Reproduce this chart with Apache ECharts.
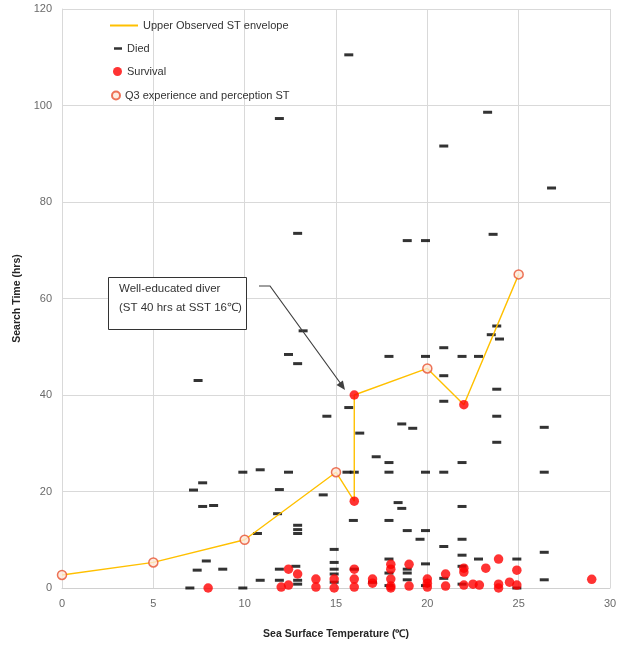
<!DOCTYPE html>
<html>
<head>
<meta charset="utf-8">
<script src="https://cdn.jsdelivr.net/npm/echarts@6/dist/echarts.min.js"></script>
<style>html,body{margin:0;padding:0;background:#fff}#c{width:623px;height:645px}</style>
</head>
<body>
<div id="c"></div>
<script>
// ---- data ----
var xTicks = [0, 5, 10, 15, 20, 25, 30];
var yTicks = [0, 20, 40, 60, 80, 100, 120];

var envelope = [[0,2.7],[5,5.3],[10,10],[15,24],[16,18],[16,40],[20,45.5],[22,38],[25,65]];

var q3Points = [[0,2.7],[5,5.3],[10,10],[15,24],[20,45.5],[25,65]];

var died = [
  [15.7,110.5],[11.9,97.3],[23.3,98.6],[20.9,91.6],[26.8,82.9],[12.9,73.5],[18.9,72],[19.9,72],[23.6,73.3],
  [13.2,53.3],[12.4,48.4],[12.9,46.5],[7.45,43],[15.7,37.4],[14.5,35.6],[16.3,32.1],
  [15.6,24],[16.0,24],[9.9,24],[10.85,24.5],[12.4,24],
  [17.9,48],[19.9,48],[20.9,49.8],[21.9,48],[22.8,48],[23.8,54.3],[23.5,52.5],[23.95,51.6],
  [20.9,44],[23.8,41.2],[20.9,38.7],[23.8,35.6],[18.6,34],[19.2,33.1],[26.4,33.3],[23.8,30.2],
  [17.2,27.2],[17.9,26],[21.9,26],
  [17.9,24],[19.9,24],[20.9,24],[26.4,24],
  [7.2,20.3],[7.7,21.8],[11.9,20.4],[14.3,19.3],
  [7.7,16.9],[8.3,17.1],[11.8,15.4],[21.9,16.9],[18.4,17.7],[18.6,16.5],
  [15.95,14],[17.9,14],[10.7,11.3],[12.9,13],[12.9,12.1],[12.9,11.3],
  [18.9,11.9],[19.9,11.9],[19.6,10.1],[21.9,10.1],[20.9,8.6],[26.4,7.4],[21.9,6.8],[22.8,6],[24.9,6],
  [14.9,8],[14.9,5.3],[14.9,3.9],[14.9,2.9],[14.9,1.2],
  [17.9,6],[17.9,3.1],[19.9,5],[18.9,3.9],[18.9,3.1],[18.9,1.7],[20.9,2],[21.9,4.5],[21.9,0.8],
  [26.4,1.7],[24.9,0],
  [7.9,5.6],[7.4,3.7],[8.8,3.9],[11.9,3.9],[12.8,4.5],[10.85,1.6],[11.9,1.6],[12.9,1.6],[12.9,0.8],
  [7,0],[9.9,0],[16,3.9],[17,1.2],[19.9,0.5],[17.9,0.5]
];

var survival = [
  [16,40],[16,18],[22,38],
  [8,0],[12,0.2],[12.4,3.9],[12.4,0.6],[12.9,2.9],[13.9,1.85],[13.9,0.2],[14.9,1.85],[14.9,0],
  [16,3.9],[16,1.85],[16,0.2],[17,1.85],[17,1.0],
  [18,4.9],[18,3.9],[18,1.85],[18,0.4],[18,0],
  [19,4.9],[19,0.4],[20,1.85],[20,1.0],[20,0.2],
  [21,2.9],[21,0.4],[22,4.1],[22,3.3],[22,0.6],[22.5,0.8],[22.85,0.6],[23.2,4.1],
  [23.9,6],[23.9,0.8],[23.9,0],[24.5,1.2],[24.9,3.7],[24.9,0.6],[29,1.8]
];

var seriesNames = ['Upper Observed ST envelope', 'Died', 'Survival', 'Q3 experience and perception ST'];
var xTitle = 'Sea Surface Temperature (℃)';
var yTitle = 'Search Time (hrs)';
var noteLines = ['Well-educated diver', '(ST 40 hrs at SST 16℃)'];

// ---- chart ----
var FONT = 'Liberation Sans';
var chart = echarts.init(document.getElementById('c'), null, {renderer: 'canvas'});

var legendText = {fontFamily: FONT, fontSize: 11, color: '#333'};

var option = {
  backgroundColor: '#fff',
  animation: false,
  grid: {left: 62, right: 13, top: 9, bottom: 53, containLabel: false},
  xAxis: {
    type: 'value', min: 0, max: 30, interval: 5,
    name: xTitle, nameLocation: 'middle', nameGap: 41,
    nameTextStyle: {fontFamily: FONT, fontSize: 10.5, fontWeight: 'bold', color: '#262626'},
    axisLine: {show: true, lineStyle: {color: '#d0d0d0'}},
    axisTick: {show: false},
    axisLabel: {fontFamily: FONT, fontSize: 11, color: '#6a6a6a', margin: 10,
      formatter: function (v) { return xTicks.indexOf(v) >= 0 ? String(v) : ''; }},
    splitLine: {show: true, lineStyle: {color: '#d9d9d9'}}
  },
  yAxis: {
    type: 'value', min: 0, max: 120, interval: 20,
    name: yTitle, nameLocation: 'middle', nameGap: 32, nameRotate: 90,
    nameTextStyle: {fontFamily: FONT, fontSize: 10.5, fontWeight: 'bold', color: '#262626'},
    axisLine: {show: true, lineStyle: {color: '#d9d9d9'}},
    axisTick: {show: false},
    axisLabel: {fontFamily: FONT, fontSize: 11, color: '#6a6a6a', margin: 10,
      formatter: function (v) { return yTicks.indexOf(v) >= 0 ? String(v) : ''; }},
    splitLine: {show: true, lineStyle: {color: '#d9d9d9'}}
  },
  legend: [
    {data: [{name: seriesNames[0], icon: 'rect'}], left: 110, top: 20, itemWidth: 28, itemHeight: 2,
      textStyle: legendText, padding: 0, selectedMode: false},
    {data: [{name: seriesNames[1], icon: 'rect'}], left: 114, top: 43, itemWidth: 8, itemHeight: 2.5,
      textStyle: legendText, padding: 0, selectedMode: false},
    {data: [{name: seriesNames[2], icon: 'circle'}], left: 113, top: 66, itemWidth: 9, itemHeight: 9,
      textStyle: legendText, padding: 0, selectedMode: false},
    {data: [{name: seriesNames[3], icon: 'circle'}], left: 111, top: 90, itemWidth: 8, itemHeight: 8,
      textStyle: legendText, padding: 0, selectedMode: false}
  ],
  series: [
    {
      name: seriesNames[1], type: 'scatter', data: died, z: 2,
      symbol: 'rect', symbolSize: [9, 3],
      itemStyle: {color: '#000'}
    },
    {
      name: seriesNames[0], type: 'line', data: envelope, z: 3,
      symbol: 'none', showSymbol: false,
      lineStyle: {color: '#FFC000', width: 1.4},
      itemStyle: {color: '#FFC000'}
    },
    {
      name: seriesNames[2], type: 'scatter', data: survival, z: 4,
      symbol: 'circle', symbolSize: 9.5,
      itemStyle: {color: '#ff0000'}
    },
    {
      name: seriesNames[3], type: 'scatter', data: q3Points, z: 5,
      symbol: 'circle', symbolSize: 9,
      itemStyle: {color: '#fde9d9', borderColor: '#e8512f', borderWidth: 1.5}
    }
  ],
  graphic: [
    {type: 'rect', shape: {x: 108.5, y: 277.5, width: 138, height: 52},
      style: {fill: '#fff', stroke: '#333', lineWidth: 1}, z: 10},
    {type: 'text', x: 119, y: 289, style: {text: noteLines[0], font: '11.5px ' + FONT, fill: '#333', textVerticalAlign: 'middle'}, z: 11},
    {type: 'text', x: 119, y: 308, style: {text: noteLines[1], font: '11.5px ' + FONT, fill: '#333', textVerticalAlign: 'middle'}, z: 11},
    {type: 'polyline', shape: {points: [[259, 286], [270, 286], [341, 384]]},
      style: {stroke: '#404040', lineWidth: 1.2, fill: null}, z: 10},
    {type: 'polygon', shape: {points: [[345, 390], [336.5, 385], [342.9, 380.4]]},
      style: {fill: '#404040'}, z: 10}
  ]
};
chart.setOption(option);
</script>
</body>
</html>
